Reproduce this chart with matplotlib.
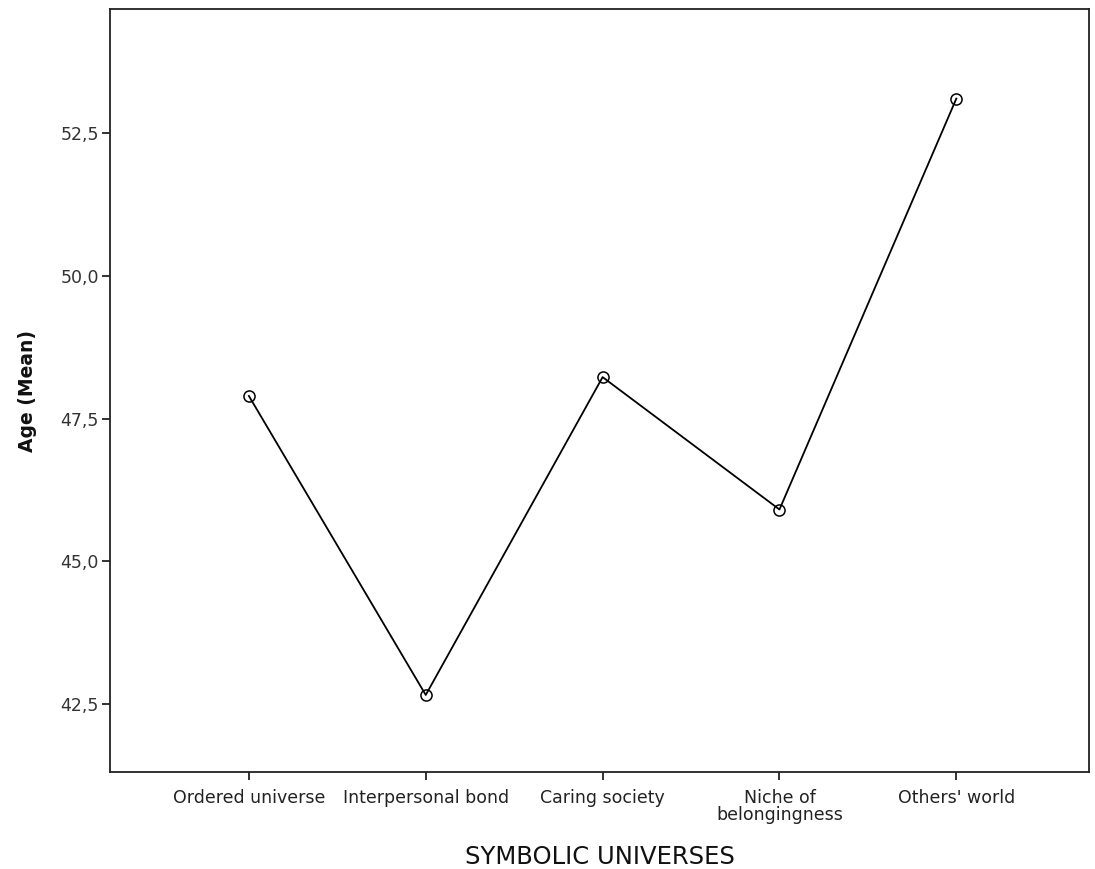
import matplotlib
matplotlib.use("Agg")
import matplotlib.pyplot as plt
from matplotlib.ticker import FuncFormatter, FixedLocator

categories = ["Ordered universe", "Interpersonal bond", "Caring society",
              "Niche of\nbelongingness", "Others' world"]
age_mean = [47.90, 42.66, 48.23, 45.91, 53.11]
y_ticks = [42.5, 45.0, 47.5, 50.0, 52.5]

plt.rcParams["font.family"] = ["DejaVu Sans"]

fig = plt.figure(figsize=(10.95, 8.69), dpi=100)
ax = fig.add_axes([0.1005, 0.1116, 0.894, 0.878])

x = list(range(len(categories)))
ax.plot(x, age_mean, color="black", linewidth=1.3, marker="o", markersize=8,
        markerfacecolor="none", markeredgecolor="black", markeredgewidth=1.1)

ax.set_xlim(-0.785, 4.75)
ax.set_ylim(41.31, 54.68)
ax.yaxis.set_major_locator(FixedLocator(y_ticks))
ax.yaxis.set_major_formatter(FuncFormatter(lambda v, p: f"{v:.1f}".replace(".", ",")))
ax.set_xticks(x)
ax.set_xticklabels(categories, fontsize=12.5, color="#222222", linespacing=0.95)

for s in ax.spines.values():
    s.set_linewidth(1.3)
    s.set_color("#222222")
ax.tick_params(axis="both", direction="out", length=6, width=1.3, color="#222222")
ax.tick_params(axis="y", labelsize=12.5, labelcolor="#333333", pad=2)
ax.tick_params(axis="x", pad=6)

ax.set_ylabel("Age (Mean)", fontsize=13.5, fontweight="bold", color="#111111", labelpad=17)
ax.set_xlabel("SYMBOLIC UNIVERSES", fontsize=17.5, color="#111111", labelpad=15)

fig.savefig("out.png", dpi=100)
